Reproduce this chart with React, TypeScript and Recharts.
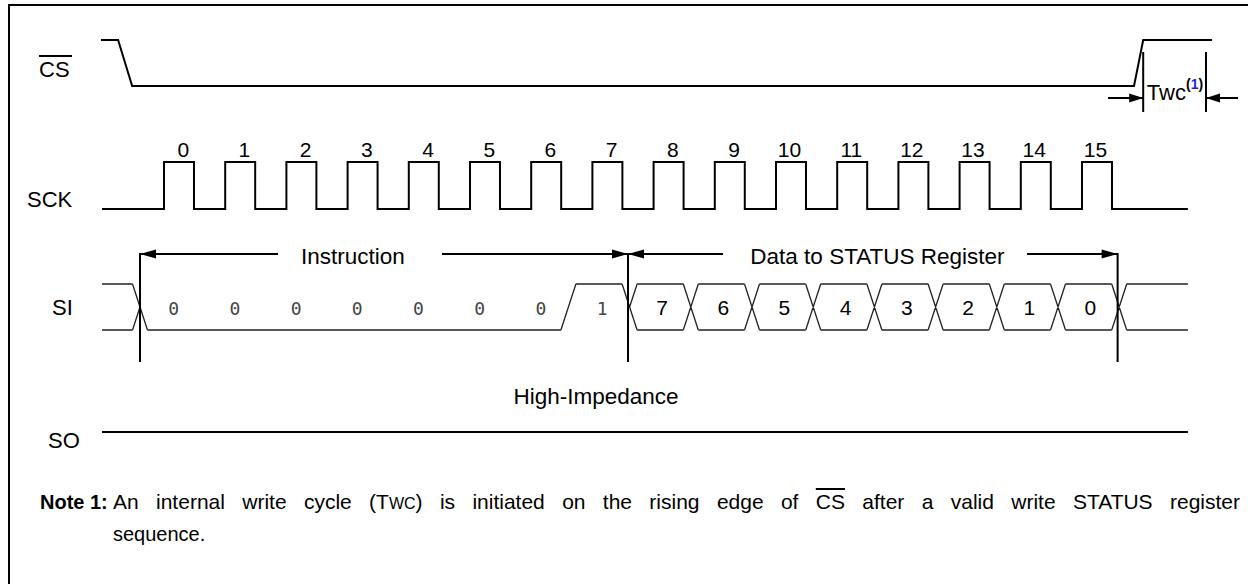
import React from 'react';
import { ComposedChart, Line, Scatter, XAxis, YAxis } from 'recharts';

// ---------------- data (time in SCK clock periods, 0 = first rising edge) ----------------
const clockLabels = ['0', '1', '2', '3', '4', '5', '6', '7', '8', '9', '10', '11', '12', '13', '14', '15'];
const sckStart = -1.013;
const sckEnd = 16.73;
const sckHighWidth = 0.49;

const csEdgeTimes = [-1.03, -0.75, -0.52, 15.85, 16.0, 17.124];
const csEdgeLevels = [1, 1, 0, 0, 1, 1];

const instructionBits = ['0', '0', '0', '0', '0', '0', '0', '1'];
const dataBits = ['7', '6', '5', '4', '3', '2', '1', '0'];
const siStart = -1.013;
const siFirstEdge = -0.392;
const siEnd = 16.73;
const siEdgeHalf = 0.1225;

const soStart = -1.013;
const soEnd = 16.73;

const spanLabels = ['Instruction', 'Data to STATUS Register'];
const spanStarts = [-0.392, 7.582];
const spanEnds = [7.582, 15.582];
const spanTextCenters = [3.088, 11.658];
const spanGapStarts = [1.863, 9.134];
const spanGapEnds = [4.542, 14.101];

const markerTimes = [-0.392, 7.582, 15.582];
const twcMarkerTimes = [16.0, 17.026];
const twcArrowTails = [15.425, 17.549];

const signalNames = ['CS', 'SCK', 'SI', 'SO'];
const signalNameTimes = [-2.042, -2.239, -1.83, -1.895];
const hiZLabel = 'High-Impedance';
const hiZTime = 7.06;

// ---------------- layout ----------------
const W = 1248;
const H = 584;
const T_MIN = -2.6797;
const T_MAX = 17.7124;
const FONT = '"Liberation Sans", Arial, Helvetica, sans-serif';

const ROW = {
  csHigh: 40,
  csLow: 86,
  sckHigh: 162,
  sckLow: 209,
  clockLabel: 149,
  siHigh: 284,
  siLow: 330,
  so: 432,
  spanArrow: 254,
  markerTop: 253,
  markerBottom: 362,
  twcTop: 52,
  twcBottom: 112,
  twcArrow: 98,
  hiZ: 396,
};
const siMid = (ROW.siHigh + ROW.siLow) / 2;
const nameRows = [69, 199, 307, 440];

type Pt = { t: number; v: number | null };

const segsToData = (segs: [number, number, number, number][]): Pt[] => {
  const out: Pt[] = [];
  segs.forEach(([t1, y1, t2, y2]) => {
    out.push({ t: t1, v: y1 });
    out.push({ t: t2, v: y2 });
    out.push({ t: (t1 + t2) / 2, v: null });
  });
  return out;
};

// CS
const csData: Pt[] = csEdgeTimes.map((t, i) => ({ t, v: csEdgeLevels[i] ? ROW.csHigh : ROW.csLow }));

// SCK
const sckData: Pt[] = [{ t: sckStart, v: ROW.sckLow }];
clockLabels.forEach((_, k) => {
  sckData.push({ t: k, v: ROW.sckLow });
  sckData.push({ t: k, v: ROW.sckHigh });
  sckData.push({ t: k + sckHighWidth, v: ROW.sckHigh });
  sckData.push({ t: k + sckHighWidth, v: ROW.sckLow });
});
sckData.push({ t: sckEnd, v: ROW.sckLow });

// SI bus
type Kind = 'bus' | 'low' | 'high';
type Region = { s: number; e: number; kind: Kind };
const regions: Region[] = [{ s: siStart, e: siFirstEdge, kind: 'bus' }];
{
  let t = siFirstEdge;
  instructionBits.forEach((b) => {
    const kind: Kind = b === '1' ? 'high' : 'low';
    const last = regions[regions.length - 1];
    if (last.kind === kind) last.e = t + 1;
    else regions.push({ s: t, e: t + 1, kind });
    t += 1;
  });
  dataBits.forEach(() => {
    regions.push({ s: t, e: t + 1, kind: 'bus' });
    t += 1;
  });
  regions.push({ s: t, e: siEnd, kind: 'bus' });
}
const levelsOf = (k: Kind) => (k === 'bus' ? ['H', 'L'] : k === 'high' ? ['H'] : ['L']);
const yOf = (l: string) => (l === 'H' ? ROW.siHigh : l === 'L' ? ROW.siLow : siMid);
const siSegs: [number, number, number, number][] = [];
const siEdgeSegs: [number, number, number, number][] = [];
regions.forEach((r, i) => {
  const h = siEdgeHalf;
  const s = i === 0 ? r.s : r.s + h;
  const e = i === regions.length - 1 ? r.e : r.e - h;
  levelsOf(r.kind).forEach((l) => siSegs.push([s, yOf(l), e, yOf(l)]));
  if (i < regions.length - 1) {
    const nxt = regions[i + 1];
    const b = r.e;
    const A = levelsOf(r.kind);
    const B = levelsOf(nxt.kind);
    A.forEach((la) =>
      B.forEach((lb) => {
        if (la !== lb) siEdgeSegs.push([b - h, yOf(la), b + h, yOf(lb)]);
      })
    );
    if (r.kind === 'bus' && nxt.kind !== 'bus') siEdgeSegs.push([b - h, yOf(B[0]), b, siMid]);
    if (r.kind !== 'bus' && nxt.kind === 'bus') siEdgeSegs.push([b, siMid, b + h, yOf(A[0])]);
  }
});
const siData = segsToData(siSegs);
const siEdgeData = segsToData(siEdgeSegs);

// SO
const soData: Pt[] = [
  { t: soStart, v: ROW.so },
  { t: soEnd, v: ROW.so },
];

// span arrows + markers
const annSegs: [number, number, number, number][] = [];
spanStarts.forEach((s, i) => {
  annSegs.push([s, ROW.spanArrow, spanGapStarts[i], ROW.spanArrow]);
  annSegs.push([spanGapEnds[i], ROW.spanArrow, spanEnds[i], ROW.spanArrow]);
});
markerTimes.forEach((t) => annSegs.push([t, ROW.markerTop, t, ROW.markerBottom]));
twcMarkerTimes.forEach((t) => annSegs.push([t, ROW.twcTop, t, ROW.twcBottom]));
twcArrowTails.forEach((t, i) => annSegs.push([t, ROW.twcArrow, twcMarkerTimes[i], ROW.twcArrow]));
const annData = segsToData(annSegs);

type Head = { t: number; v: number; dir: number; len: number; hw: number };
const heads: Head[] = [];
spanStarts.forEach((s, i) => {
  heads.push({ t: s, v: ROW.spanArrow, dir: -1, len: 16, hw: 4.5 });
  heads.push({ t: spanEnds[i], v: ROW.spanArrow, dir: 1, len: 16, hw: 4.5 });
});
heads.push({ t: twcMarkerTimes[0], v: ROW.twcArrow, dir: 1, len: 14, hw: 4.5 });
heads.push({ t: twcMarkerTimes[1], v: ROW.twcArrow, dir: -1, len: 14, hw: 4.5 });

// texts
type Lbl = { t: number; v: number; text: string; kind: string };
const labels: Lbl[] = [];
clockLabels.forEach((c, k) => labels.push({ t: k + 0.41, v: ROW.clockLabel, text: c, kind: 'clock' }));
instructionBits.forEach((b, k) =>
  labels.push({ t: siFirstEdge + k + 0.55, v: siMid + 1, text: b, kind: 'mono' })
);
dataBits.forEach((b, k) =>
  labels.push({ t: siFirstEdge + instructionBits.length + k + 0.53, v: siMid, text: b, kind: 'data' })
);
spanLabels.forEach((s, i) => labels.push({ t: spanTextCenters[i], v: ROW.spanArrow + 2, text: s, kind: 'span' }));
labels.push({ t: hiZTime, v: ROW.hiZ, text: hiZLabel, kind: 'span' });
signalNames.forEach((n, i) =>
  labels.push({ t: signalNameTimes[i], v: nameRows[i], text: n, kind: i === 0 ? 'nameBar' : 'name' })
);
labels.push({ t: twcMarkerTimes[0] + 0.06, v: 92, text: 'Twc', kind: 'twc' });

const renderHead = (p: any) => {
  const { cx, cy, payload } = p;
  const d = payload.dir;
  const pts = `${cx},${cy} ${cx - d * payload.len},${cy - payload.hw} ${cx - d * payload.len},${cy + payload.hw}`;
  return <polygon points={pts} fill="#000" stroke="none" />;
};

const renderLabel = (p: any) => {
  const { cx, cy, payload } = p;
  const k = payload.kind;
  if (k === 'mono') {
    return (
      <text x={cx} y={cy} textAnchor="middle" dominantBaseline="central" fontFamily='"DejaVu Sans Mono", monospace' fontSize={18} fill="#444">
        {payload.text}
      </text>
    );
  }
  if (k === 'name' || k === 'nameBar') {
    return (
      <g>
        <text x={cx} y={cy} textAnchor="start" dominantBaseline="central" fontFamily={FONT} fontSize={22} fill="#000">
          {payload.text}
        </text>
        {k === 'nameBar' ? <line x1={cx} x2={cx + 33} y1={cy - 13} y2={cy - 13} stroke="#000" strokeWidth={2} /> : null}
      </g>
    );
  }
  if (k === 'twc') {
    return (
      <text x={cx} y={cy} textAnchor="start" dominantBaseline="central" fontFamily={FONT} fontSize={22} fill="#000">
        {payload.text}
        <tspan dy={-8} fontSize={14} fontWeight="bold">
          (<tspan fill="#1f1fe6">1</tspan>)
        </tspan>
      </text>
    );
  }
  if (k === 'span') {
    return (
      <text x={cx} y={cy} textAnchor="middle" dominantBaseline="central" fontFamily={FONT} fontSize={22.5} fill="#000">
        {payload.text}
      </text>
    );
  }
  if (k === 'clock') {
    return (
      <text x={cx} y={cy} textAnchor="end" dominantBaseline="central" fontFamily={FONT} fontSize={21} fill="#000">
        {payload.text}
      </text>
    );
  }
  return (
    <text x={cx} y={cy} textAnchor="middle" dominantBaseline="central" fontFamily={FONT} fontSize={21} fill="#000">
      {payload.text}
    </text>
  );
};

export default function App() {
  return (
    <div style={{ position: 'absolute', left: 0, top: 0, width: W, height: H, background: '#fff', overflow: 'hidden' }}>
      <div
        style={{
          position: 'absolute',
          left: 8,
          top: 4,
          width: W,
          height: H,
          borderLeft: '2px solid #000',
          borderTop: '2px solid #000',
        }}
      />
      <div style={{ position: 'absolute', left: 0, top: 0 }}>
        <ComposedChart width={W} height={H} margin={{ top: 0, right: 0, bottom: 0, left: 0 }}>
          <XAxis type="number" dataKey="t" domain={[T_MIN, T_MAX]} allowDataOverflow hide />
          <YAxis type="number" dataKey="v" domain={[0, H]} reversed allowDataOverflow hide />
          <Line data={csData} dataKey="v" stroke="#000" strokeWidth={2} dot={false} activeDot={false} isAnimationActive={false} />
          <Line data={sckData} dataKey="v" stroke="#000" strokeWidth={2} dot={false} activeDot={false} isAnimationActive={false} />
          <Line data={siData} dataKey="v" stroke="#222" strokeWidth={1.6} dot={false} activeDot={false} connectNulls={false} isAnimationActive={false} />
          <Line data={siEdgeData} dataKey="v" stroke="#222" strokeWidth={1.3} dot={false} activeDot={false} connectNulls={false} isAnimationActive={false} />
          <Line data={soData} dataKey="v" stroke="#000" strokeWidth={2} dot={false} activeDot={false} isAnimationActive={false} />
          <Line data={annData} dataKey="v" stroke="#000" strokeWidth={2} dot={false} activeDot={false} connectNulls={false} isAnimationActive={false} />
          <Scatter data={heads} dataKey="v" shape={renderHead} isAnimationActive={false} />
          <Scatter data={labels} dataKey="v" shape={renderLabel} isAnimationActive={false} />
        </ComposedChart>
      </div>
      <div style={{ position: 'absolute', left: 40, top: 487, fontFamily: FONT, fontSize: 21, lineHeight: '30px', color: '#000', whiteSpace: 'nowrap' }}>
        <div style={{ display: 'flex' }}>
          <span style={{ fontWeight: 'bold', width: 73, flex: 'none', fontSize: 20 }}>Note 1:</span>
          <div style={{ width: 1127, textAlign: 'justify', textAlignLast: 'justify', whiteSpace: 'normal' }}>
            An internal write cycle (T<span style={{ fontSize: 16 }}>WC</span>) is initiated on the rising edge of{' '}
            <span style={{ textDecoration: 'overline' }}>CS</span> after a valid write STATUS register
          </div>
        </div>
        <div style={{ paddingLeft: 73, fontSize: 20 }}>sequence.</div>
      </div>
    </div>
  );
}
